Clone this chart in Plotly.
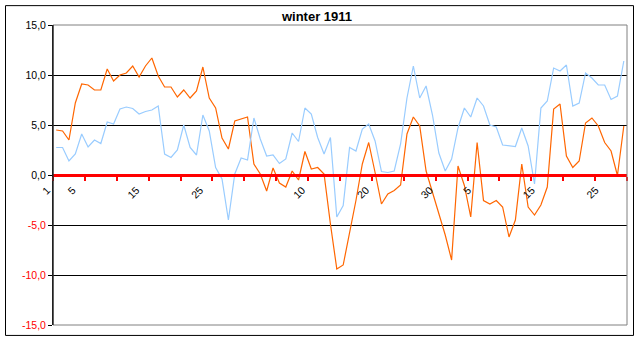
import plotly.graph_objects as go

# Daily values, 1 Dec 1910 .. 28 Feb 1911 (90 days)
series_orange = [
    4.5, 4.4, 3.5, 7.2, 9.1, 9.0, 8.5, 8.5, 10.6, 9.4,
    10.0, 10.2, 10.9, 9.8, 10.9, 11.7, 9.9, 8.8, 8.8, 7.8,
    8.5, 7.7, 8.4, 10.8, 7.7, 6.7, 3.7, 2.6, 5.4, 5.6,
    5.8, 1.1, 0.1, -1.6, 0.7, -0.8, -1.2, 0.4, -0.5, 2.35,
    0.6, 0.75, 0.1, -4.9, -9.4, -9.0, -5.9, -2.55, 1.1, 3.25,
    0.25, -2.9, -1.9, -1.55, -1.0, 4.1, 5.8, 4.9, 0.4, -1.7,
    -3.9, -6.0, -8.5, 0.9, -1.05, -4.2, 3.25, -2.55, -2.9, -2.55,
    -3.2, -6.2, -4.5, 1.1, -3.2, -4.0, -3.0, -1.2, 6.6, 7.1,
    1.9, 0.75, 1.4, 5.2, 5.7, 4.9, 3.25, 2.4, -0.05, 4.9,
]
series_blue = [
    2.75, 2.75, 1.4, 2.1, 4.1, 2.8, 3.5, 3.15, 5.3, 5.1,
    6.6, 6.8, 6.65, 6.1, 6.35, 6.5, 6.9, 2.1, 1.75, 2.5,
    5.0, 2.75, 2.0, 6.0, 4.4, 0.75, -0.4, -4.5, 0.1, 1.7,
    1.5, 5.7, 3.6, 1.9, 2.0, 1.15, 1.6, 4.2, 3.35, 6.7,
    6.1, 3.75, 2.1, 3.75, -4.2, -3.05, 2.75, 2.4, 4.6, 5.1,
    3.4, 0.35, 0.25, 0.4, 3.1, 7.7, 10.9, 7.7, 8.9, 6.0,
    2.2, 0.4, 1.6, 4.7, 6.7, 5.8, 7.7, 6.9, 5.0, 4.8,
    3.0, 2.9, 2.85, 4.7, 2.9, -0.9, 6.7, 7.4, 10.7, 10.4,
    11.0, 6.9, 7.2, 10.2, 9.7, 9.0, 9.0, 7.55, 7.9, 11.4,
]
label_positions = [0, 4, 14, 24, 40, 50, 60, 66, 76, 86]
label_texts = ["1", "5", "15", "25", "10", "20", "30", "5", "15", "25"]
y_ticks = [-15, -10, -5, 0, 5, 10, 15]
y_labels = [
    ("<span style='color:#FF0000'>%s</span>" if v < 0 else "%s") % (("%.1f" % v).replace(".", ","))
    for v in y_ticks
]

days = list(range(len(series_orange)))
FONT = "Liberation Sans, Arial, sans-serif"

fig = go.Figure()
fig.add_trace(go.Scatter(x=days, y=series_orange, mode="lines",
                         line=dict(color="#FF6600", width=1.2), showlegend=False))
fig.add_trace(go.Scatter(x=days, y=series_blue, mode="lines",
                         line=dict(color="#99CCFF", width=1.2), showlegend=False))

L, R, T, B = 53, 15, 25, 16
W, H = 642, 343
pw, ph = W - L - R, H - T - B

def px_x(p):
    return (p - L) / pw

def px_y(p):
    return (H - B - p) / ph

fig.update_layout(
    width=W, height=H,
    margin=dict(l=L, r=R, t=T, b=B, pad=0),
    paper_bgcolor="white", plot_bgcolor="white",
    font=dict(family=FONT, size=10.5, color="black"),
    title=dict(text="winter 1911", x=317 / W, xref="container", xanchor="center",
               y=1 - 16 / H, yref="container", yanchor="middle",
               font=dict(family=FONT, size=13, color="black", weight="bold")),
    xaxis=dict(
        range=[-0.5, len(days) - 0.5], anchor="free", position=0.5,
        showline=True, linecolor="#FF0000", linewidth=3,
        showgrid=False, zeroline=False,
        tickmode="array", tickvals=label_positions, ticktext=label_texts,
        ticks="", tickangle=-45, ticklabelshift=-9, ticklabelstandoff=3,
        tickfont=dict(family=FONT, size=10.5, color="black"),
        minor=dict(tickmode="linear", tick0=-0.5, dtick=5, ticks="outside",
                   ticklen=4, tickwidth=2, tickcolor="#FF0000", showgrid=False),
    ),
    yaxis=dict(
        range=[-15, 15], tickmode="array", tickvals=y_ticks, ticktext=y_labels,
        showgrid=True, gridcolor="black", gridwidth=1, zeroline=False,
        showline=True, linecolor="black", linewidth=1,
        ticks="outside", ticklen=4, tickcolor="black", tickwidth=1,
        tickfont=dict(family=FONT, size=10.5),
    ),
    shapes=[
        dict(type="rect", xref="paper", yref="paper", x0=0, x1=1, y0=0, y1=1,
             line=dict(color="#808080", width=1), layer="above"),
        dict(type="line", xref="paper", yref="paper", x0=0, x1=0, y0=0, y1=1,
             line=dict(color="black", width=1), layer="above"),
        dict(type="rect", xref="paper", yref="paper",
             x0=px_x(5.5), x1=px_x(633.5), y0=px_y(337.5), y1=px_y(5.5),
             line=dict(color="black", width=1), layer="above"),
    ],
)

fig.write_html("out.html")
